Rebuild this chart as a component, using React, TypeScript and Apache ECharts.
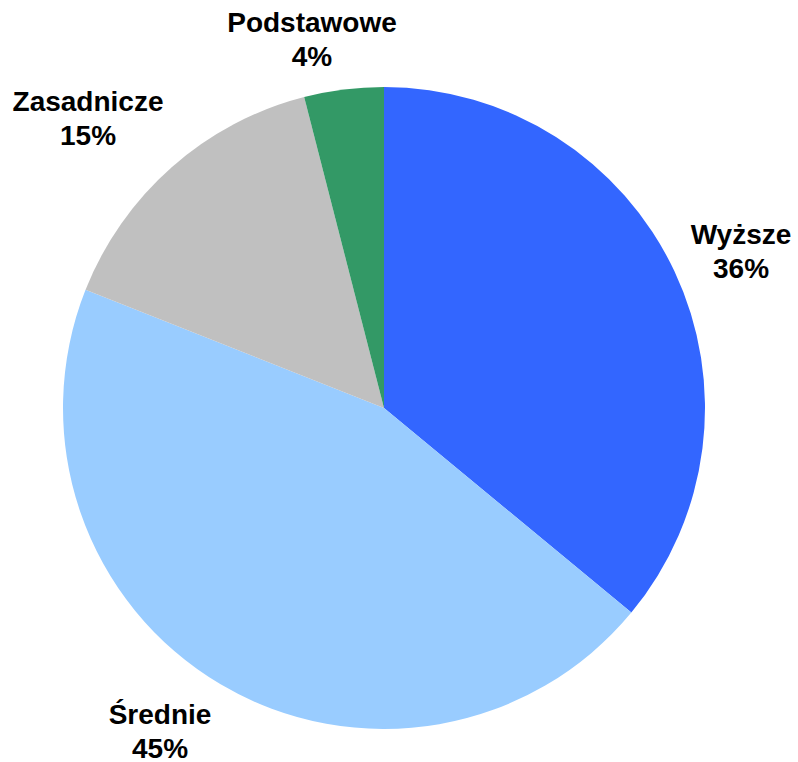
import React, { useEffect, useRef } from "react";
import * as echarts from "echarts";

const categories = ["Wyższe", "Średnie", "Zasadnicze", "Podstawowe"];
const values = [36, 45, 15, 4];
const colors = ["#3366FF", "#99CCFF", "#C0C0C0", "#339966"];
// label anchor centers (layout only)
const labelAnchors = [
  [741, 251],
  [160, 731],
  [88, 118],
  [312, 39],
];

export default function App() {
  const ref = useRef<HTMLDivElement>(null);
  useEffect(() => {
    document.body.style.margin = "0";
    const chart = echarts.init(ref.current!, null, { renderer: "svg" });
    chart.setOption({
      animation: false,
      backgroundColor: "#ffffff",
      series: [
        {
          type: "pie",
          center: [384, 408],
          radius: 321,
          startAngle: 90,
          clockwise: true,
          silent: true,
          itemStyle: { borderWidth: 0 },
          label: {
            show: true,
            position: "outside",
            formatter: (p: any) => `${p.name}\n${p.value}%`,
            fontFamily: "Liberation Sans, Arial, sans-serif",
            fontWeight: "bold",
            fontSize: 28,
            lineHeight: 34,
            color: "#000000",
            align: "center",
            overflow: "none",
            width: 300,
          },
          labelLine: { show: false },
          labelLayout: (params: any) => {
            const a = labelAnchors[params.dataIndex];
            return { x: a[0], y: a[1], align: "center", verticalAlign: "middle" };
          },
          data: categories.map((name, i) => ({
            name,
            value: values[i],
            itemStyle: { color: colors[i] },
          })),
        },
      ],
    });
    return () => chart.dispose();
  }, []);
  return (
    <div
      ref={ref}
      style={{ position: "absolute", left: 0, top: 0, width: 798, height: 762 }}
    />
  );
}
